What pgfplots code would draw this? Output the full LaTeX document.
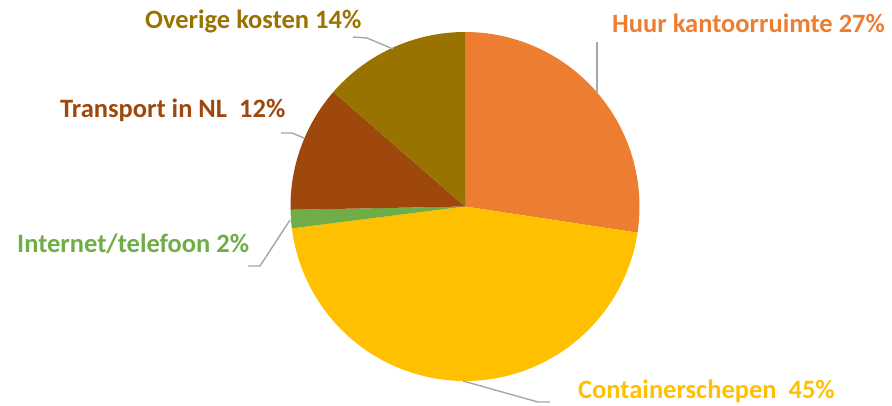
\documentclass[border=0pt]{standalone}
\usepackage{pgfplots}
\usepackage{pgfplotstable}
\pgfplotsset{compat=1.18}
\usepackage{fontspec}
\setmainfont{Carlito}
\definecolor{huur}{HTML}{ED7D31}
\definecolor{cont}{HTML}{FFC000}
\definecolor{inet}{HTML}{70AD47}
\definecolor{trans}{HTML}{9E480E}
\definecolor{over}{HTML}{997300}
\definecolor{lead}{HTML}{A6A6A6}
\pgfplotstableread{
label value
Huur 27.4
Container 45.6
Internet 1.7
Transport 11.7
Overige 13.6
}\piedata
\newcommand\getval[2]{\pgfplotstablegetelem{#1}{value}\of\piedata\let#2\pgfplotsretval}
\begin{document}
\begin{tikzpicture}
\getval{0}\vA \getval{1}\vB \getval{2}\vC \getval{3}\vD \getval{4}\vE
\pgfmathsetmacro\sA{90}
\pgfmathsetmacro\eA{\sA-3.6*\vA}
\pgfmathsetmacro\eB{\eA-3.6*\vB}
\pgfmathsetmacro\eC{\eB-3.6*\vC}
\pgfmathsetmacro\eD{\eC-3.6*\vD}
\pgfmathsetmacro\eE{\eD-3.6*\vE}
\begin{axis}[
  width=892pt, height=405pt, scale only axis,
  xmin=0, xmax=892, ymin=0, ymax=405,
  hide axis, clip=false,
]
\path[draw=none] (rel axis cs:0,0) rectangle (rel axis cs:1,1);
\addplot[draw=none, fill=huur, domain=\eA:\sA, samples=80] ({465+174.5*cos(x)},{198.5+174.5*sin(x)}) -- (axis cs:465,198.5) -- cycle;
\addplot[draw=none, fill=cont, domain=\eB:\eA, samples=120] ({465+174.5*cos(x)},{198.5+174.5*sin(x)}) -- (axis cs:465,198.5) -- cycle;
\addplot[draw=none, fill=inet, domain=\eC:\eB, samples=10] ({465+174.5*cos(x)},{198.5+174.5*sin(x)}) -- (axis cs:465,198.5) -- cycle;
\addplot[draw=none, fill=trans, domain=\eD:\eC, samples=40] ({465+174.5*cos(x)},{198.5+174.5*sin(x)}) -- (axis cs:465,198.5) -- cycle;
\addplot[draw=none, fill=over, domain=\eE:\eD, samples=40] ({465+174.5*cos(x)},{198.5+174.5*sin(x)}) -- (axis cs:465,198.5) -- cycle;
% leader lines
\addplot[lead, line width=1.4pt, mark=none] coordinates {(597,311) (597,363)};
\addplot[lead, line width=1.4pt, mark=none] coordinates {(393,356) (367,367) (353,368)};
\addplot[lead, line width=1.4pt, mark=none] coordinates {(304,267) (292,272) (281,272)};
\addplot[lead, line width=1.4pt, mark=none] coordinates {(290,185) (260,139) (248,139)};
\addplot[lead, line width=1.4pt, mark=none] coordinates {(463,24) (538,3) (550,3)};
% labels
\node[anchor=base west, inner sep=0pt, text=huur, font=\fontsize{26.5}{30}\selectfont\bfseries] at (axis cs:612,372) {Huur kantoorruimte 27\%};
\node[anchor=base west, inner sep=0pt, text=over, font=\fontsize{26.5}{30}\selectfont\bfseries] at (axis cs:145,376) {Overige kosten 14\%};
\node[anchor=base west, inner sep=0pt, text=trans, font=\fontsize{26.5}{30}\selectfont\bfseries] at (axis cs:60,287) {Transport in NL\ \ 12\%};
\node[anchor=base west, inner sep=0pt, text=inet, font=\fontsize{26.5}{30}\selectfont\bfseries] at (axis cs:17,153) {Internet/telefoon 2\%};
\node[anchor=base west, inner sep=0pt, text=cont, font=\fontsize{26.5}{30}\selectfont\bfseries] at (axis cs:578,7) {Containerschepen\ \ 45\%};
\end{axis}
\end{tikzpicture}
\end{document}
